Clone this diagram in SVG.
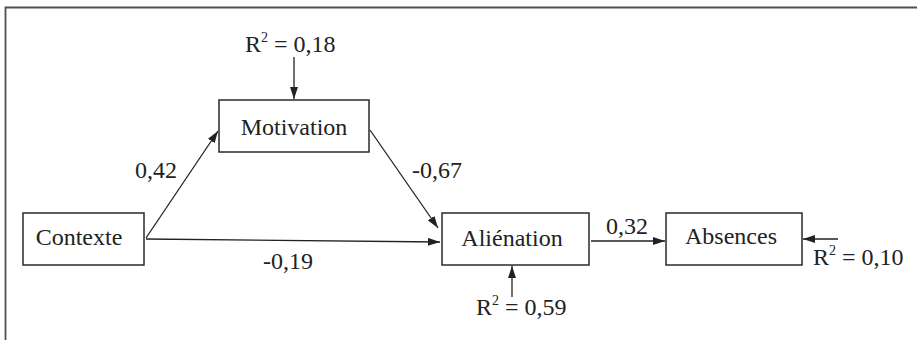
<svg xmlns="http://www.w3.org/2000/svg" width="917" height="340" viewBox="0 0 917 340">
<style>
.frame{fill:none;stroke:#505050;stroke-width:1.8}
.box{fill:#fff;stroke:#2a2a2a;stroke-width:1.5}
.lbl{font-family:"Liberation Serif",serif;font-size:24px;fill:#222}
.ctr{text-anchor:middle}
.sup{font-size:14px}
.edge{fill:none;stroke:#222;stroke-width:1.3;marker-end:url(#ah)}
</style>
<defs>
<marker id="ah" markerUnits="userSpaceOnUse" markerWidth="12" markerHeight="8" viewBox="0 0 12 8" refX="12" refY="4" orient="auto">
<path d="M0,0 L12,4 L0,8 Z" fill="#222"/>
</marker>
</defs>
<rect width="917" height="340" fill="#fff"/>
<path class="frame" d="M5.5,340 V7.5 H917"/>
<g id="connectors">
<line class="edge" x1="294" y1="57" x2="294" y2="99"/>
<line class="edge" x1="146" y1="238" x2="218" y2="131"/>
<line class="edge" x1="370" y1="130" x2="438" y2="228"/>
<line class="edge" x1="146" y1="239" x2="440" y2="242"/>
<line class="edge" x1="591" y1="241" x2="665" y2="241"/>
<line class="edge" x1="512" y1="297" x2="512" y2="266"/>
<line class="edge" x1="838" y1="239" x2="803" y2="239"/>
<text class="lbl" x="135" y="178">0,42</text>
<text class="lbl" x="412" y="178">-0,67</text>
<text class="lbl" x="263" y="269">-0,19</text>
<text class="lbl" x="606" y="234">0,32</text>
</g>
<g id="r2-motivation"><text class="lbl" x="245" y="52">R<tspan class="sup" dy="-10">2</tspan><tspan dy="10"> = 0,18</tspan></text></g>
<g id="r2-alienation"><text class="lbl" x="476" y="315">R<tspan class="sup" dy="-10">2</tspan><tspan dy="10"> = 0,59</tspan></text></g>
<g id="r2-absences"><text class="lbl" x="813" y="265">R<tspan class="sup" dy="-10">2</tspan><tspan dy="10"> = 0,10</tspan></text></g>
<g id="motivation">
<rect class="box" x="219" y="100" width="150" height="52"/>
<text class="lbl ctr" x="294" y="135">Motivation</text>
</g>
<g id="contexte">
<rect class="box" x="23" y="213" width="121" height="52"/>
<text class="lbl ctr" x="79" y="245">Contexte</text>
</g>
<g id="alienation">
<rect class="box" x="442" y="213" width="147" height="52"/>
<text class="lbl ctr" x="512" y="246">Aliénation</text>
</g>
<g id="absences">
<rect class="box" x="666" y="213" width="136" height="52"/>
<text class="lbl ctr" x="731" y="244">Absences</text>
</g>
</svg>
